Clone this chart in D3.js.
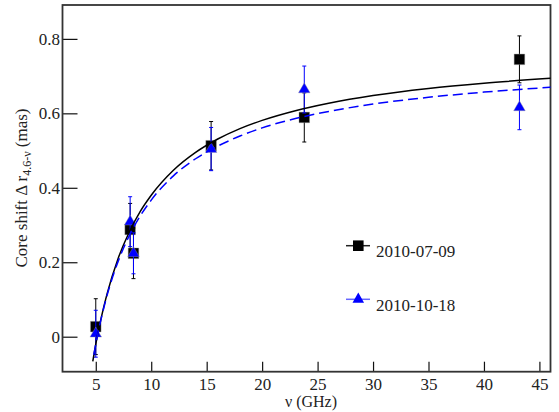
<!DOCTYPE html>
<html>
<head>
<meta charset="utf-8">
<script src="https://cdn.jsdelivr.net/npm/d3@7"></script>
<style>
  html, body { margin: 0; padding: 0; background: #fff; }
  svg { display: block; }
  svg text { font-family: "Liberation Serif", "Times New Roman", Times, "DejaVu Serif", serif; }
</style>
</head>
<body>
<svg id="chart" width="559" height="412"></svg>
<script>
// ---- data ----
const seriesNames = ["2010-07-09", "2010-10-18"];
const freqs = [5.0, 8.1, 8.4, 15.4, 23.8, 43.2];
const shiftA = [0.027, 0.288, 0.224, 0.513, 0.589, 0.745];
const errA   = [0.075, 0.070, 0.068, 0.065, 0.066, 0.063];
const shiftB = [0.008, 0.309, 0.224, 0.504, 0.664, 0.616];
const errB   = [0.063, 0.067, 0.055, 0.058, 0.063, 0.060];

// fitted curves
const fitFreqA = [4.73, 5, 5.5, 6, 7, 8, 9, 10, 12, 14, 16, 18, 20, 23, 26, 30, 35, 40, 46];
const fitValA  = [-0.066, -0.020, 0.052, 0.113, 0.209, 0.280, 0.336, 0.380, 0.447, 0.495, 0.531, 0.559, 0.581, 0.607, 0.627, 0.648, 0.667, 0.681, 0.694];
const fitFreqB = [4.82, 5, 5.5, 6, 7, 8, 9, 10, 12, 14, 16, 18, 20, 23, 26, 30, 35, 40, 46];
const fitValB  = [-0.049, -0.020, 0.050, 0.109, 0.201, 0.270, 0.324, 0.367, 0.432, 0.478, 0.512, 0.539, 0.561, 0.586, 0.605, 0.625, 0.643, 0.657, 0.670];

const xTicks = [5, 10, 15, 20, 25, 30, 35, 40, 45];
const xMinor = d3.range(3, 47, 1);
const yTicks = [0, 0.2, 0.4, 0.6, 0.8];
const yMinor = [-0.05, 0.05, 0.1, 0.15, 0.25, 0.3, 0.35, 0.45, 0.5, 0.55, 0.65, 0.7, 0.75, 0.85];

// ---- layout ----
const FONT = "'Liberation Serif', 'Times New Roman', Times, 'DejaVu Serif', serif";
const svg = d3.select("#chart");
const L = 62.5, R = 550.5, T = 5, B = 371.7;
const x = d3.scaleLinear().domain([2, 46]).range([L, R]);
const y = d3.scaleLinear().domain([-0.094, 0.891]).range([B, T]);
const blue = "#0000ff";

// axes
const gx = svg.append("g").attr("transform", `translate(0,${B})`);
gx.call(d3.axisBottom(x).tickValues(xMinor).tickSize(-5).tickFormat(""));
gx.call(d3.axisBottom(x).tickValues(xTicks).tickSize(-10).tickPadding(6).tickFormat(d3.format("d")));
gx.selectAll(".domain").remove();
gx.selectAll("line").attr("stroke", "#111").attr("stroke-width", 1.2);
gx.selectAll("text").attr("font-size", 17).attr("fill", "#222").attr("font-family", FONT);

const gy = svg.append("g").attr("transform", `translate(${L},0)`);
gy.call(d3.axisLeft(y).tickValues(yMinor).tickSize(-8).tickFormat(""));
gy.call(d3.axisLeft(y).tickValues(yTicks).tickSize(-15).tickPadding(2.5).tickFormat(d => d === 0 ? "0" : d3.format(".1f")(d)));
gy.selectAll(".domain").remove();
gy.selectAll("line").attr("stroke", "#111").attr("stroke-width", 1.2);
gy.selectAll("text").attr("font-size", 17).attr("fill", "#222").attr("font-family", FONT);

// frame
svg.append("rect").attr("x", L).attr("y", T).attr("width", R - L).attr("height", B - T)
  .attr("fill", "none").attr("stroke", "#333").attr("stroke-width", 1.8);

// axis titles
svg.append("text").attr("x", 311).attr("y", 407).attr("text-anchor", "middle")
  .attr("font-family", FONT).attr("font-size", 16).attr("fill", "#222").text("ν (GHz)");
const yt = svg.append("text").attr("transform", "translate(27,188) rotate(-90)")
  .attr("text-anchor", "middle").attr("font-family", FONT).attr("font-size", 17).attr("fill", "#222");
yt.append("tspan").text("Core shift Δ r");
yt.append("tspan").attr("font-size", 12).attr("dy", 4).text("4.6-ν");
yt.append("tspan").attr("dy", -4).text(" (mas)");

// error bars + markers
function drawSeries(vals, errs, color, shape) {
  const g = svg.append("g");
  freqs.forEach((f, i) => {
    const cx = x(f), y1 = y(vals[i] + errs[i]), y0 = y(vals[i] - errs[i]);
    g.append("line").attr("x1", cx).attr("x2", cx).attr("y1", y1).attr("y2", y0)
      .attr("stroke", color).attr("stroke-width", 1);
    [y1, y0].forEach(yy => g.append("line").attr("x1", cx - 2).attr("x2", cx + 2)
      .attr("y1", yy).attr("y2", yy).attr("stroke", color).attr("stroke-width", 1));
  });
  g.selectAll("path.m").data(freqs).enter().append("path")
    .attr("d", d3.symbol().type(shape).size(shape === d3.symbolSquare ? 112 : 58)())
    .attr("transform", (f, i) => `translate(${x(f)},${y(vals[i])})`)
    .attr("fill", color).attr("stroke", "#999").attr("stroke-width", 0.4);
}
drawSeries(shiftA, errA, "#000", d3.symbolSquare);
drawSeries(shiftB, errB, blue, d3.symbolTriangle);

// fit curves
const line = d3.line().x(d => x(d[0])).y(d => y(d[1])).curve(d3.curveMonotoneX);
svg.append("path").datum(fitFreqA.map((f, i) => [f, fitValA[i]]))
  .attr("d", line).attr("fill", "none").attr("stroke", "#000").attr("stroke-width", 1.5);
svg.append("path").datum(fitFreqB.map((f, i) => [f, fitValB[i]]))
  .attr("d", line).attr("fill", "none").attr("stroke", blue).attr("stroke-width", 1.5)
  .attr("stroke-dasharray", "10,5");

// legend
const leg = [
  { name: seriesNames[0], color: "#000", lineColor: "#222", shape: d3.symbolSquare, size: 112, y: 245.7 },
  { name: seriesNames[1], color: blue, lineColor: "#6666ff", shape: d3.symbolTriangle, size: 58, y: 299.3 }
];
leg.forEach(l => {
  svg.append("line").attr("x1", 346).attr("x2", 370).attr("y1", l.y).attr("y2", l.y)
    .attr("stroke", l.lineColor).attr("stroke-width", 1.5);
  svg.append("path").attr("d", d3.symbol().type(l.shape).size(l.size)())
    .attr("transform", `translate(358.3,${l.y})`).attr("fill", l.color);
  svg.append("text").attr("x", 376).attr("y", l.y + 11.5).attr("font-family", FONT).attr("font-size", 17)
    .attr("fill", "#222").text(l.name);
});
</script>
</body>
</html>
